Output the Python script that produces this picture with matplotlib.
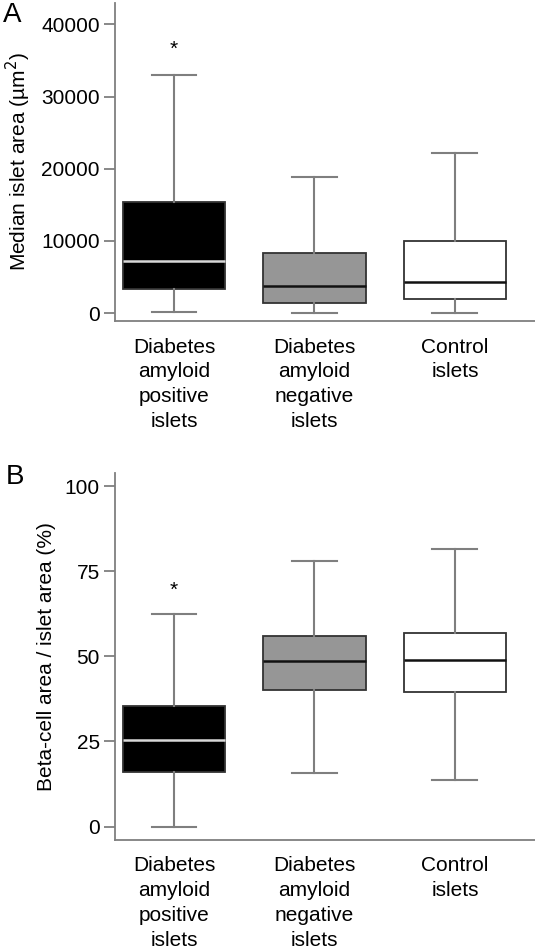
import matplotlib
matplotlib.use("Agg")
import matplotlib.pyplot as plt

plt.rcParams["font.family"] = ["Liberation Sans", "DejaVu Sans"]

# ── Data ──────────────────────────────────────────────────────────────────
groups = ["Diabetes\namyloid\npositive\nislets",
          "Diabetes\namyloid\nnegative\nislets",
          "Control\nislets"]

# Panel A: median islet area (µm²)
a_low = [200, 0, 0]
a_q1 = [3300, 1350, 1900]
a_med = [7200, 3800, 4300]
a_q3 = [15400, 8400, 10050]
a_high = [33000, 18900, 22200]
a_star = 36500

# Panel B: beta-cell area / islet area (%)
b_low = [0, 15.7, 13.7]
b_q1 = [16.0, 40.1, 39.6]
b_med = [25.4, 48.7, 49.0]
b_q3 = [35.5, 56.0, 56.8]
b_high = [62.5, 78.1, 81.5]
b_star = 69.5

fills = ["#000000", "#969696", "#ffffff"]
median_colors = ["#d8d8d8", "#111111", "#111111"]
GRAY = "#7f7f7f"
FS = 15


def draw(ax, low, q1, med, q3, high, star, ylim, yticks, ylabel):
    stats = [dict(whislo=l, q1=a, med=m, q3=b, whishi=h, fliers=[])
             for l, a, m, b, h in zip(low, q1, med, q3, high)]
    pos = [1, 2, 3]
    art = ax.bxp(stats, positions=pos, widths=0.73, patch_artist=True,
                 showfliers=False, whiskerprops=dict(color=GRAY, lw=1.5),
                 capprops=dict(color=GRAY, lw=1.5), capwidths=0.32)
    for patch, fc in zip(art["boxes"], fills):
        patch.set_facecolor(fc)
        patch.set_edgecolor("#333333")
        patch.set_linewidth(1.3)
    for line, mc in zip(art["medians"], median_colors):
        line.set_color(mc)
        line.set_linewidth(1.8)
    ax.text(1, star, "*", ha="center", va="center", fontsize=FS)
    ax.set_xlim(0.58, 3.57)
    ax.set_ylim(*ylim)
    ax.set_yticks(yticks)
    ax.set_xticks(pos)
    ax.set_xticklabels(groups, fontsize=FS, linespacing=1.38, va="top")
    ax.tick_params(axis="x", length=0, pad=12)
    ax.tick_params(axis="y", length=8, width=1.3, color=GRAY, labelsize=FS, pad=3)
    ax.set_ylabel(ylabel, fontsize=FS, labelpad=6)
    for s in ["top", "right"]:
        ax.spines[s].set_visible(False)
    for s in ["left", "bottom"]:
        ax.spines[s].set_color(GRAY)
        ax.spines[s].set_linewidth(1.3)


fig = plt.figure(figsize=(5.35, 9.5), dpi=100)
ax_a = fig.add_axes([0.215, 0.662, 0.785, 0.335])
ax_b = fig.add_axes([0.215, 0.116, 0.785, 0.386])

draw(ax_a, a_low, a_q1, a_med, a_q3, a_high, a_star, (-1100, 43000),
     [0, 10000, 20000, 30000, 40000], "Median islet area (\u00b5m$^2$)")
draw(ax_b, b_low, b_q1, b_med, b_q3, b_high, b_star, (-3.9, 103.8),
     [0, 25, 50, 75, 100], "Beta-cell area / islet area (%)")

fig.text(0.006, 0.998, "A", fontsize=20, va="top", ha="left")
fig.text(0.010, 0.512, "B", fontsize=20, va="top", ha="left")

fig.savefig("out.png", dpi=100)
